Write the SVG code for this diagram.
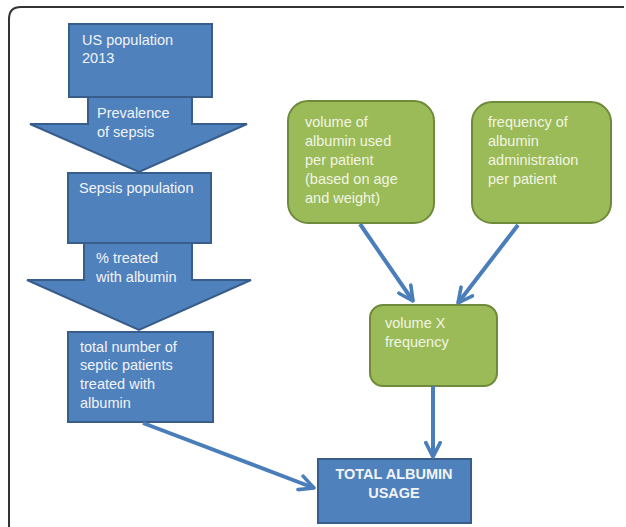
<svg xmlns="http://www.w3.org/2000/svg" width="626" height="527" viewBox="0 0 626 527">
<defs>
<style>
.blue{fill:#4f81bd;stroke:#385d8a;stroke-width:2}
.green{fill:#9bbb59;stroke:#6f8a3a;stroke-width:2}
.bt{font-family:"Liberation Sans",Arial,sans-serif;font-size:14.5px;fill:#f2f4f8}
.gt{font-family:"Liberation Sans",Arial,sans-serif;font-size:14.5px;fill:#f1f5e2}
.bold{font-weight:bold;text-anchor:middle}
.conn{stroke:#4a7ebb;stroke-width:4;fill:none}
</style>
<marker id="ah" viewBox="0 0 10 10" refX="9" refY="5" markerWidth="4.5" markerHeight="4.5" orient="auto" markerUnits="strokeWidth">
<path d="M1,1 L9,5 L1,9" fill="none" stroke="#4a7ebb" stroke-width="2" stroke-linecap="round" stroke-linejoin="round"/>
</marker>
</defs>
<rect width="626" height="527" fill="#ffffff"/>
<path d="M9,527 V19 Q9,7 21,7 H624" fill="none" stroke="#333333" stroke-width="2"/>
<g id="us-population">
<rect class="blue" x="69" y="24" width="143" height="73"/>
<text class="bt" x="82" y="45">US population</text>
<text class="bt" x="82" y="63">2013</text>
</g>
<g id="prevalence-arrow">
<polygon class="blue" points="88,97 192,97 192,124 247,124 139,172 30,124 88,124"/>
<text class="bt" x="97" y="118">Prevalence</text>
<text class="bt" x="97" y="137">of sepsis</text>
</g>
<g id="sepsis-population">
<rect class="blue" x="68" y="173" width="143" height="70"/>
<text class="bt" x="79" y="193">Sepsis population</text>
</g>
<g id="treated-arrow">
<polygon class="blue" points="84,243 192,243 192,280 251,280 139,330 27,280 84,280"/>
<text class="bt" x="96" y="263">% treated</text>
<text class="bt" x="96" y="282">with albumin</text>
</g>
<g id="septic-patients">
<rect class="blue" x="68" y="332" width="145" height="90"/>
<text class="bt" x="80" y="352">total number of</text>
<text class="bt" x="80" y="370">septic patients</text>
<text class="bt" x="80" y="389">treated with</text>
<text class="bt" x="80" y="408">albumin</text>
</g>
<g id="volume-per-patient">
<rect class="green" x="288" y="101" width="146" height="122" rx="20"/>
<text class="gt" x="305" y="127">volume of</text>
<text class="gt" x="305" y="146">albumin used</text>
<text class="gt" x="305" y="165">per patient</text>
<text class="gt" x="305" y="184">(based on age</text>
<text class="gt" x="305" y="203">and weight)</text>
</g>
<g id="frequency-per-patient">
<rect class="green" x="472" y="102" width="139" height="121" rx="20"/>
<text class="gt" x="488" y="127">frequency of</text>
<text class="gt" x="488" y="146">albumin</text>
<text class="gt" x="488" y="165">administration</text>
<text class="gt" x="488" y="184">per patient</text>
</g>
<g id="volume-x-frequency">
<rect class="green" x="370" y="305" width="127" height="81" rx="13"/>
<text class="gt" x="385" y="328">volume X</text>
<text class="gt" x="385" y="347">frequency</text>
</g>
<g id="total-albumin-usage">
<rect class="blue" x="318" y="459" width="153" height="64"/>
<text class="bt bold" x="394" y="479">TOTAL ALBUMIN</text>
<text class="bt bold" x="394" y="498">USAGE</text>
</g>
<g id="connectors">
<line class="conn" x1="360" y1="224" x2="413" y2="301" marker-end="url(#ah)"/>
<line class="conn" x1="518" y1="225" x2="458" y2="303" marker-end="url(#ah)"/>
<line class="conn" x1="433" y1="386" x2="433" y2="457" marker-end="url(#ah)"/>
<line class="conn" x1="143" y1="423" x2="314" y2="488" marker-end="url(#ah)"/>
</g>
</svg>
